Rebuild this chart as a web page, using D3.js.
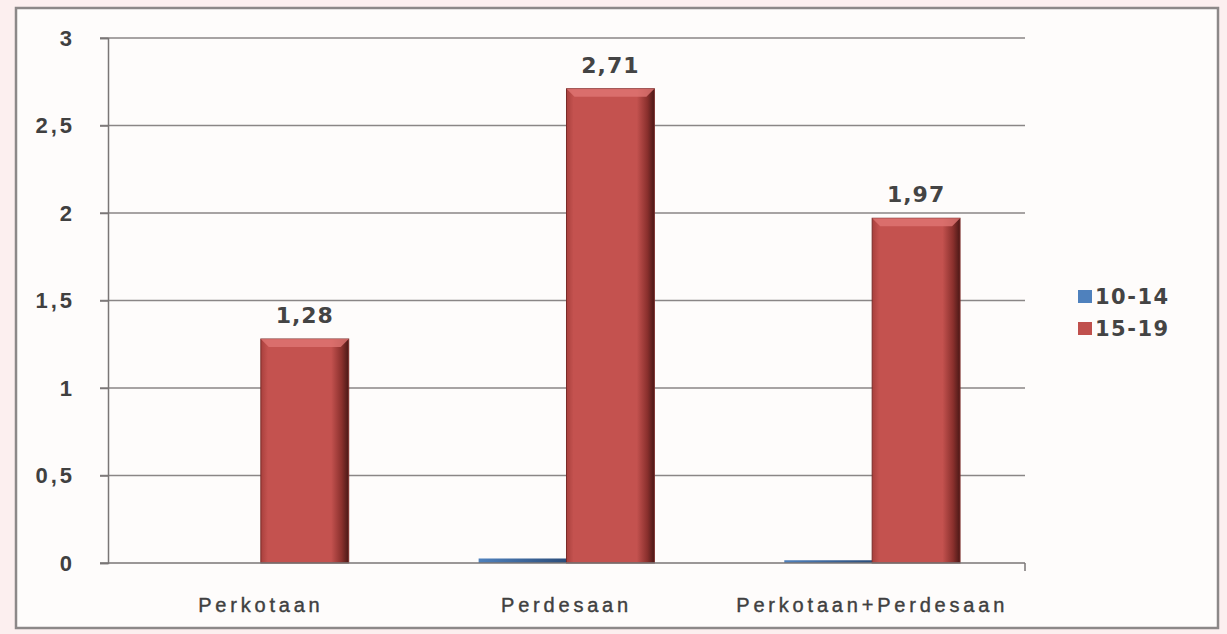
<!DOCTYPE html>
<html>
<head>
<meta charset="utf-8">
<script src="https://cdn.jsdelivr.net/npm/d3@7"></script>
<style>
  body { margin: 0; background: #fcefef; }
  svg { display: block; font-family: "DejaVu Sans", Verdana, sans-serif; }
</style>
</head>
<body>
<div id="chart"></div>
<script>
var width = 1227,
    height = 634;

var categories = ["Perkotaan", "Perdesaan", "Perkotaan+Perdesaan"];
var seriesNames = ["10-14", "15-19"];
var values1014 = [0, 0.02, 0.01];
var values1519 = [1.28, 2.71, 1.97];
var yTicks = [0, 0.5, 1, 1.5, 2, 2.5, 3];
var colors = ["#4f81bd", "#c0504d"];

var margin = {left: 108, right: 202, top: 38, bottom: 71};

var svg = d3.select("#chart").append("svg")
    .attr("width", width)
    .attr("height", height);

var defs = svg.append("defs");
var gRed = defs.append("linearGradient").attr("id", "gred").attr("x1", 0).attr("x2", 1).attr("y1", 0).attr("y2", 0);
gRed.append("stop").attr("offset", "0%").attr("stop-color", "#a8403d");
gRed.append("stop").attr("offset", "8%").attr("stop-color", "#c4524f");
gRed.append("stop").attr("offset", "80%").attr("stop-color", "#c4524f");
gRed.append("stop").attr("offset", "92%").attr("stop-color", "#8a302d");
gRed.append("stop").attr("offset", "100%").attr("stop-color", "#4a1816");
var gBlue = defs.append("linearGradient").attr("id", "gblue").attr("x1", 0).attr("x2", 1).attr("y1", 0).attr("y2", 0);
gBlue.append("stop").attr("offset", "0%").attr("stop-color", "#4f81bd");
gBlue.append("stop").attr("offset", "100%").attr("stop-color", "#2c4d7a");

// frame
svg.append("rect")
    .attr("x", 16).attr("y", 8)
    .attr("width", 1202).attr("height", 620)
    .attr("fill", "#fefcfb")
    .attr("stroke", "#8c8888")
    .attr("stroke-width", 2.5);

var x = d3.scaleBand()
    .domain(categories)
    .range([margin.left, width - margin.right])
    .paddingInner(0.425)
    .paddingOuter(0.2125);

var xSub = d3.scaleBand()
    .domain(seriesNames)
    .range([0, x.bandwidth()]);

var y = d3.scaleLinear()
    .domain([0, 3])
    .range([height - margin.bottom, margin.top]);

// gridlines
svg.append("g")
    .selectAll("line")
    .data(yTicks.slice(1))
    .enter().append("line")
    .attr("x1", margin.left - 8)
    .attr("x2", width - margin.right)
    .attr("y1", function (d) { return y(d); })
    .attr("y2", function (d) { return y(d); })
    .attr("stroke", "#8a8686")
    .attr("stroke-width", 1.5);

var yAxis = svg.append("g")
    .attr("transform", "translate(" + margin.left + ",0)")
    .call(d3.axisLeft(y).tickValues(yTicks).tickSize(8).tickPadding(25)
        .tickFormat(function (d) { return String(d).replace(".", ","); }));
yAxis.select(".domain").attr("stroke", "#7a7676").attr("stroke-width", 1.5);
yAxis.selectAll(".tick line").attr("stroke", "#7a7676").attr("stroke-width", 1.5);
yAxis.selectAll("text")
    .style("font-size", "22px")
    .attr("fill", "#404040")
    .attr("font-weight", "bold")
    .attr("letter-spacing", "3px");

var groups = svg.append("g")
    .selectAll("g")
    .data(categories)
    .enter().append("g")
    .attr("transform", function (d) { return "translate(" + x(d) + ",0)"; });

groups.append("rect")
    .attr("x", xSub("10-14"))
    .attr("width", xSub.bandwidth())
    .attr("y", function (d, i) { return y(values1014[i]) - 1; })
    .attr("height", function (d, i) { return values1014[i] > 0 ? y(0) - y(values1014[i]) + 1 : 0; })
    .attr("fill", "url(#gblue)");

groups.append("rect")
    .attr("x", xSub("15-19"))
    .attr("width", xSub.bandwidth())
    .attr("y", function (d, i) { return y(values1519[i]); })
    .attr("height", function (d, i) { return y(0) - y(values1519[i]); })
    .attr("fill", "url(#gred)")
    .attr("stroke", "#7a2a28")
    .attr("stroke-width", 1);

// top bevel
groups.append("path")
    .attr("d", function (d, i) {
        var x0 = xSub("15-19"), w = xSub.bandwidth(), t = y(values1519[i]);
        return "M" + x0 + "," + t + "L" + (x0 + w) + "," + t + "L" + (x0 + w - 8) + "," + (t + 8) + "L" + (x0 + 8) + "," + (t + 8) + "Z";
    })
    .attr("fill", "#e07673")
    .attr("opacity", 0.8);

groups.append("text")
    .attr("x", xSub("15-19") + xSub.bandwidth() / 2)
    .attr("y", function (d, i) { return y(values1519[i]) - 16; })
    .attr("text-anchor", "middle")
    .style("font-size", "22px")
    .attr("font-weight", "bold")
    .attr("letter-spacing", "1px")
    .attr("fill", "#444")
    .text(function (d, i) { return String(values1519[i]).replace(".", ","); });

// x axis
var xAxis = svg.append("g")
    .attr("transform", "translate(0," + y(0) + ")")
    .call(d3.axisBottom(x).tickSize(0).tickPadding(35).tickSizeOuter(0));
xAxis.select(".domain").remove();
xAxis.append("line")
    .attr("x1", margin.left - 8).attr("x2", width - margin.right)
    .attr("stroke", "#7a7676").attr("stroke-width", 1.5);
xAxis.append("line")
    .attr("x1", width - margin.right).attr("x2", width - margin.right)
    .attr("y1", 0).attr("y2", 8)
    .attr("stroke", "#7a7676").attr("stroke-width", 1.5);
xAxis.selectAll("text")
    .style("font-size", "20px")
    .attr("fill", "#404040")
    .attr("stroke", "#404040")
    .attr("stroke-width", 0.4)
    .attr("letter-spacing", "3.8px");

// legend
var legend = svg.append("g")
    .selectAll("g")
    .data(seriesNames)
    .enter().append("g")
    .attr("transform", function (d, i) { return "translate(1078," + (296 + i * 32) + ")"; });
legend.append("rect")
    .attr("x", 0).attr("y", -6)
    .attr("width", 14).attr("height", 13)
    .attr("fill", function (d, i) { return colors[i]; });
legend.append("text")
    .attr("x", 17).attr("y", 8)
    .style("font-size", "21px")
    .attr("font-weight", "bold")
    .attr("letter-spacing", "1.5px")
    .attr("fill", "#444")
    .text(function (d) { return d; });
</script>
</body>
</html>
